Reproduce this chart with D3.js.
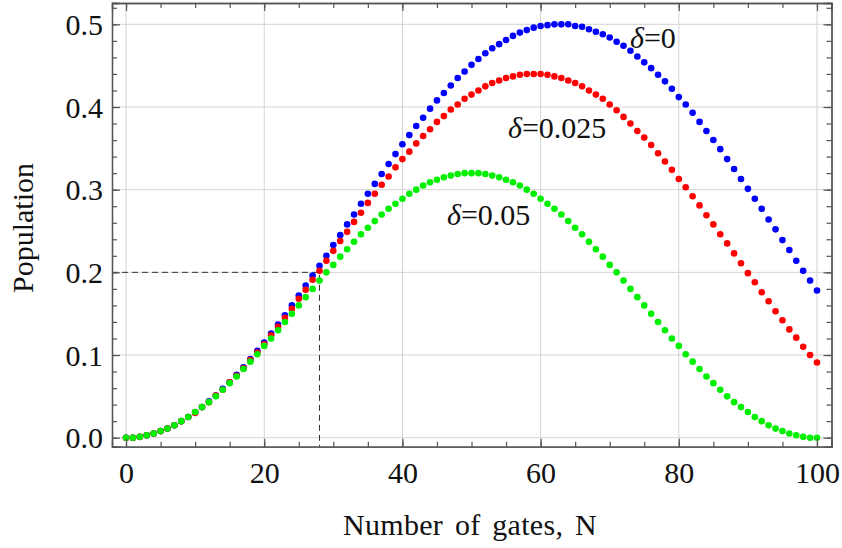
<!DOCTYPE html>
<html>
<head>
<meta charset="utf-8">
<script src="https://cdn.jsdelivr.net/npm/d3@7"></script>
<style>
  body { margin: 0; background: #fff; }
  svg text { font-family: "Liberation Serif", "Times New Roman", serif; fill: #111; }
</style>
</head>
<body>
<div id="chart"></div>
<script>
// number of gates N = 0..100 (index of each value)
const blueVals = [0.000,0.000,0.001,0.003,0.005,0.008,0.011,0.015,0.020,0.025,
  0.031,0.037,0.044,0.051,0.059,0.067,0.076,0.085,0.095,0.105,
  0.115,0.126,0.137,0.148,0.160,0.172,0.184,0.196,0.208,0.220,
  0.233,0.245,0.258,0.270,0.283,0.295,0.307,0.319,0.331,0.343,
  0.355,0.366,0.377,0.387,0.398,0.408,0.417,0.426,0.435,0.443,
  0.451,0.458,0.465,0.471,0.476,0.481,0.486,0.490,0.493,0.496,
  0.498,0.499,0.500,0.500,0.500,0.498,0.497,0.494,0.491,0.488,
  0.484,0.479,0.474,0.468,0.461,0.454,0.447,0.439,0.431,0.422,
  0.412,0.403,0.393,0.382,0.371,0.360,0.349,0.337,0.325,0.313,
  0.301,0.289,0.277,0.264,0.252,0.239,0.227,0.214,0.202,0.190,
  0.178];
const redVals = [0.000,0.000,0.001,0.003,0.005,0.008,0.011,0.015,0.020,0.025,
  0.030,0.037,0.043,0.051,0.058,0.067,0.075,0.084,0.094,0.103,
  0.113,0.124,0.134,0.145,0.156,0.168,0.179,0.191,0.202,0.214,
  0.226,0.238,0.249,0.261,0.272,0.284,0.295,0.306,0.316,0.327,
  0.337,0.346,0.356,0.365,0.373,0.382,0.389,0.397,0.403,0.410,
  0.415,0.420,0.425,0.429,0.432,0.435,0.437,0.439,0.440,0.440,
  0.440,0.439,0.437,0.435,0.432,0.429,0.425,0.420,0.415,0.410,
  0.403,0.396,0.388,0.380,0.371,0.363,0.354,0.344,0.334,0.324,
  0.313,0.303,0.292,0.281,0.269,0.258,0.246,0.235,0.223,0.211,
  0.199,0.188,0.176,0.165,0.153,0.142,0.131,0.121,0.110,0.100,
  0.091];
const greenVals = [0.000,0.000,0.001,0.003,0.005,0.008,0.011,0.015,0.020,0.025,
  0.031,0.037,0.043,0.050,0.058,0.066,0.074,0.083,0.092,0.101,
  0.111,0.120,0.130,0.140,0.150,0.160,0.170,0.180,0.190,0.200,
  0.209,0.219,0.228,0.237,0.246,0.254,0.262,0.270,0.277,0.283,
  0.289,0.295,0.300,0.305,0.309,0.312,0.315,0.317,0.319,0.320,
  0.320,0.320,0.319,0.317,0.315,0.312,0.309,0.305,0.300,0.295,
  0.289,0.283,0.277,0.270,0.262,0.254,0.246,0.237,0.228,0.219,
  0.209,0.200,0.190,0.180,0.170,0.160,0.150,0.140,0.130,0.120,
  0.111,0.101,0.092,0.083,0.074,0.066,0.058,0.050,0.043,0.037,
  0.031,0.025,0.020,0.015,0.011,0.008,0.005,0.003,0.001,0.000,
  0.000];

const seriesNames = ["δ=0", "δ=0.025", "δ=0.05"];
const seriesColors = ["#0000ff", "#ff0000", "#00f000"];
const xTicks = [0, 20, 40, 60, 80, 100];
const yTicks = [0.0, 0.1, 0.2, 0.3, 0.4, 0.5];
const markN = 28, markP = 0.2;

var FONT = "'Liberation Serif', 'Times New Roman', serif";
var W = 842, H = 548;
var margin = {top: 3, right: 10.5, bottom: 101.3, left: 112},
    width = W - margin.left - margin.right,
    height = H - margin.top - margin.bottom;

var svg = d3.select("#chart").append("svg")
    .attr("width", W).attr("height", H)
    .attr("font-family", FONT)
  .append("g")
    .attr("transform", "translate(" + margin.left + "," + margin.top + ")");

var x = d3.scaleLinear().domain([-2.03, 102.1]).range([0, width]);
var y = d3.scaleLinear().domain([-0.0109, 0.5258]).range([height, 0]);

// grid
svg.append("g").selectAll("line").data(xTicks).enter().append("line")
    .attr("x1", d => x(d)).attr("x2", d => x(d))
    .attr("y1", 0).attr("y2", height)
    .attr("stroke", "#d4d4d4").attr("stroke-width", 1);
svg.append("g").selectAll("line").data(yTicks).enter().append("line")
    .attr("x1", 0).attr("x2", width)
    .attr("y1", d => y(d)).attr("y2", d => y(d))
    .attr("stroke", "#d4d4d4").attr("stroke-width", 1);

// dashed guide lines
svg.append("path")
    .attr("d", "M0," + y(markP) + "H" + x(markN) + "V" + height)
    .attr("fill", "none").attr("stroke", "#333")
    .attr("stroke-width", 1).attr("stroke-dasharray", "6,4");

// dots
var data = [blueVals, redVals, greenVals];
data.forEach(function(vals, i) {
  svg.append("g").selectAll("circle").data(vals).enter().append("circle")
      .attr("cx", (d, n) => x(n))
      .attr("cy", d => y(d))
      .attr("r", 3.3)
      .attr("fill", seriesColors[i]);
});

// axes with inward ticks
var xMinor = d3.range(0, 101, 5), yMinor = d3.range(0, 0.521, 0.02);
function frameAxis(axisFn, scale, major, minor, transform, labels) {
  var gMin = svg.append("g").attr("transform", transform)
      .call(axisFn(scale).tickValues(minor).tickSize(-5).tickFormat(""));
  var gMaj = svg.append("g").attr("transform", transform)
      .call(axisFn(scale).tickValues(major).tickSize(-8)
        .tickFormat(labels ? d => (scale === y ? d3.format(".1f")(d) : d) : ""));
  [gMin, gMaj].forEach(g => {
    g.attr("font-family", FONT);
    g.select(".domain").attr("stroke", "#555").attr("stroke-width", 1.3);
    g.selectAll(".tick line").attr("stroke", "#555").attr("stroke-width", 1.2);
  });
  return gMaj;
}
var bx = frameAxis(d3.axisBottom, x, xTicks, xMinor, "translate(0," + height + ")", true);
bx.selectAll("text").attr("font-size", 30).attr("dy", 0).attr("y", 36);
frameAxis(d3.axisTop, x, xTicks, xMinor, "translate(0,0)", false);
var ly = frameAxis(d3.axisLeft, y, yTicks, yMinor, "translate(0,0)", true);
ly.selectAll("text").attr("font-size", 30).attr("x", -9).attr("dy", "0.34em");
frameAxis(d3.axisRight, y, yTicks, yMinor, "translate(" + width + ",0)", false);

// axis titles
svg.append("text")
    .attr("x", 470 - margin.left).attr("y", 535 - margin.top)
    .attr("text-anchor", "middle").attr("font-size", 30)
    .attr("letter-spacing", 0.3).attr("word-spacing", 4)
    .text("Number of gates, N");
svg.append("text")
    .attr("transform", "translate(" + (33 - margin.left) + "," + (228 - margin.top) + ") rotate(-90)")
    .attr("text-anchor", "middle").attr("font-size", 30)
    .text("Population");

// series labels
var labelPos = [[630, 48], [508, 138], [447, 225]];
seriesNames.forEach(function(name, i) {
  var t = svg.append("text")
      .attr("x", labelPos[i][0] - margin.left).attr("y", labelPos[i][1] - margin.top)
      .attr("font-size", 30);
  t.append("tspan").attr("font-style", "italic").text(name.slice(0, 1));
  t.append("tspan").text(name.slice(1));
});
</script>
</body>
</html>
